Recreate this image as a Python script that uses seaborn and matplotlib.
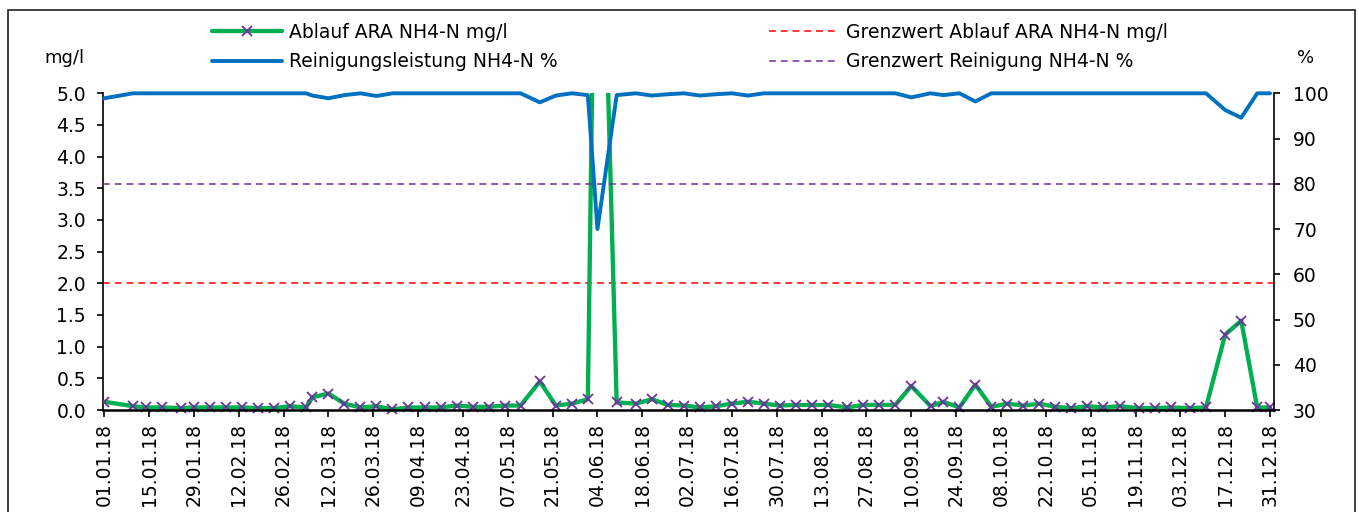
import numpy as np
import pandas as pd
import matplotlib
matplotlib.use("Agg")
import matplotlib.pyplot as plt
import matplotlib.dates as mdates
from matplotlib.lines import Line2D
from matplotlib.patches import Rectangle
from matplotlib.ticker import MultipleLocator, FormatStrFormatter
import seaborn as sns

# ---------------- data ----------------
datum = [
    "2018-01-01", "2018-01-10", "2018-01-14", "2018-01-19", "2018-01-25", "2018-01-29",
    "2018-02-03", "2018-02-08", "2018-02-13", "2018-02-18", "2018-02-23", "2018-02-28",
    "2018-03-05", "2018-03-07", "2018-03-12", "2018-03-17", "2018-03-22", "2018-03-27",
    "2018-04-01", "2018-04-06", "2018-04-11", "2018-04-16", "2018-04-21", "2018-04-26",
    "2018-05-01", "2018-05-06", "2018-05-11", "2018-05-17", "2018-05-22", "2018-05-27",
    "2018-06-01", "2018-06-04", "2018-06-10", "2018-06-16", "2018-06-21", "2018-06-26",
    "2018-07-01", "2018-07-06", "2018-07-11", "2018-07-16", "2018-07-21", "2018-07-26",
    "2018-07-31", "2018-08-05", "2018-08-10", "2018-08-15", "2018-08-21", "2018-08-26",
    "2018-08-31", "2018-09-05", "2018-09-10", "2018-09-16", "2018-09-20", "2018-09-25",
    "2018-09-30", "2018-10-05", "2018-10-10", "2018-10-15", "2018-10-20", "2018-10-25",
    "2018-10-30", "2018-11-04", "2018-11-09", "2018-11-14", "2018-11-20", "2018-11-25",
    "2018-11-30", "2018-12-06", "2018-12-11", "2018-12-17", "2018-12-22", "2018-12-27",
    "2018-12-31",
]
ablauf_nh4n = [
    0.13, 0.06, 0.04, 0.04, 0.03, 0.04,
    0.04, 0.04, 0.04, 0.03, 0.03, 0.06,
    0.04, 0.20, 0.26, 0.10, 0.04, 0.06,
    0.01, 0.04, 0.04, 0.04, 0.07, 0.05,
    0.05, 0.07, 0.07, 0.45, 0.07, 0.10,
    0.17, 11.2, 0.12, 0.10, 0.17, 0.08,
    0.07, 0.04, 0.06, 0.10, 0.13, 0.10,
    0.07, 0.08, 0.08, 0.08, 0.04, 0.08,
    0.08, 0.08, 0.38, 0.06, 0.13, 0.04,
    0.40, 0.05, 0.10, 0.07, 0.10, 0.05,
    0.03, 0.06, 0.04, 0.06, 0.03, 0.03,
    0.04, 0.03, 0.04, 1.19, 1.41, 0.04,
    0.04,
]
reinigung_pct = [
    98.9, 100, 100, 100, 100, 100,
    100, 100, 100, 100, 100, 100,
    100, 99.5, 98.9, 99.6, 100, 99.4,
    100, 100, 100, 100, 100, 100,
    100, 100, 100, 98.0, 99.5, 100,
    99.6, 70.0, 99.6, 100, 99.5, 99.8,
    100, 99.5, 99.8, 100, 99.5, 100,
    100, 100, 100, 100, 100, 100,
    100, 100, 99.1, 100, 99.6, 100,
    98.2, 100, 100, 100, 100, 100,
    100, 100, 100, 100, 100, 100,
    100, 100, 100, 96.3, 94.6, 100,
    100,
]
grenzwert_ablauf = 2.0
grenzwert_reinigung = 80.0
labels = ["Ablauf ARA NH4-N mg/l", "Reinigungsleistung NH4-N %",
          "Grenzwert Ablauf ARA NH4-N mg/l", "Grenzwert Reinigung NH4-N %"]

# ---------------- style ----------------
GREEN = "#00B050"
PURPLE = "#7030A0"
BLUE = "#0070C0"
RED = "#FF0000"

sns.set_style("white")
plt.rcParams["font.family"] = ["DejaVu Sans"]
plt.rcParams["text.color"] = "black"
FS = 13.5

df = pd.DataFrame({"Datum": pd.to_datetime(datum),
                   "Ablauf": ablauf_nh4n,
                   "Reinigung": reinigung_pct})

fig = plt.figure(figsize=(13.59, 5.12), dpi=100)
W, H = 1359, 512
x0, x1, ytop, ybot = 103.3, 1274.3, 93.3, 410.0
ax1 = fig.add_axes([x0 / W, 1 - ybot / H, (x1 - x0) / W, (ybot - ytop) / H])
ax2 = ax1.twinx()

# limit lines
ax1.axhline(grenzwert_ablauf, color=RED, lw=1.1, dashes=(4.5, 3.2), zorder=1)
ax2.axhline(grenzwert_reinigung, color=PURPLE, lw=1.1, dashes=(4.5, 3.2), zorder=1)

# green series (left axis)
sns.lineplot(data=df, x="Datum", y="Ablauf", ax=ax1, color=GREEN, lw=3.1,
             marker="x", markersize=7.8, markeredgecolor=PURPLE,
             markerfacecolor=PURPLE, markeredgewidth=1.3, zorder=3)
clip = Rectangle((0, -0.03), 1, 1.03, transform=ax1.transAxes, visible=False)
ax1.add_patch(clip)
for ln in ax1.get_lines():
    if ln.get_color() == GREEN:
        ln.set_clip_path(clip)

# blue series (right axis)
sns.lineplot(data=df, x="Datum", y="Reinigung", ax=ax2, color=BLUE, lw=2.8,
             zorder=3, clip_on=False)

# axes limits / ticks
xmin = pd.Timestamp("2018-01-01") - pd.Timedelta(hours=7)
xmax = pd.Timestamp("2018-12-31") + pd.Timedelta(hours=32)
ax1.set_xlim(xmin, xmax)
ax1.set_ylim(0, 5)
ax2.set_ylim(30, 100)

xt = pd.date_range("2018-01-01", "2018-12-31", freq="14D")
ax1.set_xticks(xt)
ax1.xaxis.set_major_formatter(mdates.DateFormatter("%d.%m.%y"))
for lab in ax1.get_xticklabels():
    lab.set_rotation(90)

ax1.yaxis.set_major_locator(MultipleLocator(0.5))
ax1.yaxis.set_major_formatter(FormatStrFormatter("%.1f"))
ax2.yaxis.set_major_locator(MultipleLocator(10))
ax2.yaxis.set_major_formatter(FormatStrFormatter("%d"))

ax1.set_xlabel("")
ax1.set_ylabel("")
ax2.set_ylabel("")

ax1.tick_params(axis="x", direction="out", length=4.8, width=1.2, pad=4.5,
                labelsize=FS, colors="black", bottom=True)
ax1.tick_params(axis="y", direction="out", length=4.5, width=1.2, pad=8,
                labelsize=FS, colors="black", left=True)
ax2.tick_params(axis="y", direction="out", length=4.5, width=1.2, pad=9,
                labelsize=FS, colors="black", right=True)

for s in ["top", "right"]:
    ax1.spines[s].set_visible(False)
for s in ["top", "left", "bottom"]:
    ax2.spines[s].set_visible(False)
ax1.spines["left"].set_color("black")
ax1.spines["left"].set_linewidth(1.2)
ax1.spines["bottom"].set_color("black")
ax1.spines["bottom"].set_linewidth(1.8)
ax1.spines["bottom"].set_zorder(5)
ax2.spines["right"].set_color("black")
ax2.spines["right"].set_linewidth(1.2)
ax1.grid(False)
ax2.grid(False)

# axis unit labels
fig.text(64 / W, 1 - 58 / H, "mg/l", ha="center", va="center",
         fontsize=FS - 0.5, color="black")
fig.text(1306 / W, 1 - 58 / H, "%", ha="center", va="center",
         fontsize=FS - 0.5, color="black")

# legend
handles = [
    Line2D([], [], color=GREEN, lw=3.1, marker="x", markersize=7.8,
           markeredgecolor=PURPLE, markeredgewidth=1.3),
    Line2D([], [], color=BLUE, lw=2.8),
    Line2D([], [], color=RED, lw=1.1, dashes=(4.5, 3.2)),
    Line2D([], [], color=PURPLE, lw=1.1, dashes=(4.5, 3.2)),
]
fig.legend(handles=handles, labels=labels, ncol=2, loc="center left",
           bbox_to_anchor=(212 / W, 1 - 47 / H), frameon=False,
           fontsize=FS, handlelength=3.73, handletextpad=0.37,
           columnspacing=11.3, labelspacing=0.55, borderpad=0,
           borderaxespad=0, labelcolor="black")

# chart border
border = Rectangle((8 / W, -0.2), (1355 - 8) / W, 1.2 - 10 / H,
                   transform=fig.transFigure, fill=False, ec="#202020",
                   lw=1.2, clip_on=False)
fig.add_artist(border)

fig.savefig("out.png", dpi=100)
